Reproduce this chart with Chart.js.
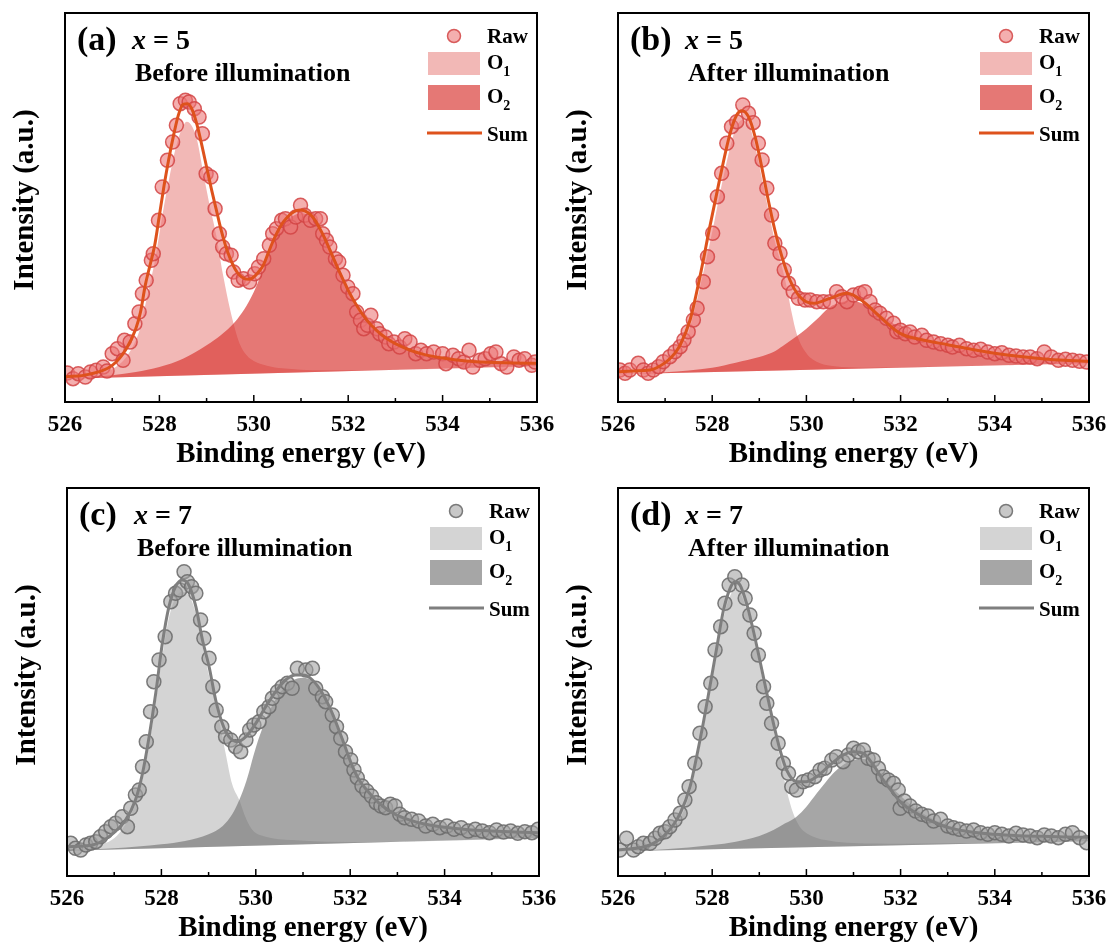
<!DOCTYPE html>
<html>
<head>
<meta charset="utf-8">
<script src="https://cdn.jsdelivr.net/npm/chart.js@4.4.1/dist/chart.umd.min.js"></script>
<style>
  body { margin: 0; background: #fff; width: 1109px; height: 945px; position: relative; overflow: hidden; }
  canvas { position: absolute; }
</style>
</head>
<body>
<canvas id="pa"></canvas>
<canvas id="pc"></canvas>
<canvas id="pb"></canvas>
<canvas id="pd"></canvas>
<script>
const SERIF = '"Liberation Serif", "Times New Roman", serif';
const majorTicks = [526, 528, 530, 532, 534, 536];
const legendNames = ['Raw', 'O', 'O', 'Sum'];

// ---- (a) x = 5, before illumination ----
const rawA = [[526.05,8.7],[526.17,7.0],[526.28,8.5],[526.43,7.5],[526.54,9.0],[526.66,9.5],[526.81,10.5],[526.89,9.3],[527.0,14.5],[527.11,16.0],[527.23,12.5],[527.26,18.5],[527.38,18.0],[527.48,23.5],[527.57,27.0],[527.64,32.5],[527.72,36.5],[527.83,42.5],[527.87,44.5],[527.98,54.5],[528.06,64.5],[528.17,72.5],[528.28,78.0],[528.36,83.0],[528.44,89.5],[528.55,90.5],[528.63,90.0],[528.74,88.0],[528.84,85.5],[528.91,80.5],[528.99,68.5],[529.09,67.5],[529.18,58.0],[529.27,50.5],[529.34,46.5],[529.42,44.5],[529.52,44.0],[529.57,39.0],[529.67,36.5],[529.78,37.0],[529.91,36.0],[530.02,38.5],[530.1,40.5],[530.21,43.0],[530.33,47.0],[530.4,50.5],[530.48,52.0],[530.59,54.5],[530.67,55.0],[530.78,52.5],[530.89,55.5],[530.99,59.0],[531.08,56.0],[531.2,54.5],[531.31,55.0],[531.41,55.0],[531.46,50.5],[531.54,48.5],[531.61,46.5],[531.73,43.0],[531.8,42.0],[531.89,38.0],[531.99,34.5],[532.1,32.5],[532.18,27.0],[532.26,24.5],[532.33,22.0],[532.41,23.0],[532.48,26.0],[532.6,22.0],[532.67,20.5],[532.79,19.5],[532.86,17.5],[532.97,18.0],[533.09,16.5],[533.2,19.0],[533.31,18.0],[533.43,14.5],[533.54,15.5],[533.66,14.5],[533.81,15.0],[534.0,14.5],[534.07,11.5],[534.22,14.0],[534.34,13.0],[534.45,12.0],[534.56,15.5],[534.64,10.5],[534.79,12.5],[534.9,13.0],[535.02,14.5],[535.13,15.0],[535.24,11.5],[535.36,10.5],[535.51,13.5],[535.62,12.5],[535.74,13.0],[535.89,11.0],[535.96,12.0]];
const sumA = [[526,7.5],[526.5,8.3],[527,11],[527.3,16],[527.5,22],[527.6,27],[527.7,35],[527.8,41],[527.9,47],[528,56],[528.1,65],[528.2,73],[528.3,80],[528.4,86],[528.5,89.3],[528.6,89.5],[528.7,87.5],[528.8,83],[528.9,77],[529,70.5],[529.1,64],[529.2,58],[529.3,52],[529.4,47],[529.5,43],[529.6,40],[529.7,38],[529.8,37],[529.9,36.8],[530,37.5],[530.1,39],[530.2,41],[530.3,44.5],[530.4,48],[530.5,51],[530.6,53.5],[530.7,55.3],[530.8,56.6],[530.9,57.4],[531,57.6],[531.1,57.2],[531.2,56.2],[531.3,54.5],[531.4,52],[531.5,49.2],[531.6,46],[531.7,42.7],[531.8,39.5],[531.9,36.5],[532,33.5],[532.2,28.5],[532.4,24.5],[532.6,21.5],[532.8,19.2],[533,17.5],[533.3,15.6],[533.6,14.3],[534,13.2],[534.5,12.3],[535,11.9],[535.5,11.7],[536,11.6]];
const o1A = [[526,7.0],[526.5,7.6],[527,9.8],[527.3,13.5],[527.5,18.5],[527.6,22.5],[527.7,29],[527.8,35.5],[527.9,42],[528,50.5],[528.1,59],[528.2,66.5],[528.3,73.5],[528.4,79],[528.5,82.8],[528.58,84.1],[528.7,82.5],[528.8,78.5],[528.93,68.6],[529.05,60],[529.21,49.6],[529.35,38],[529.5,27.6],[529.6,22],[529.7,17.5],[529.85,14],[530,12.3],[530.3,10.8],[530.6,10.1],[531,9.7],[531.5,9.5],[532.5,9.55],[536,10.8]];
const o2A = [[526,7.0],[527,8],[527.5,9],[528,10.5],[528.5,13],[529,17],[529.3,20],[529.6,24],[529.8,27.8],[530,33],[530.2,40],[530.4,47.5],[530.6,52.5],[530.8,55.5],[531,56.6],[531.2,55.8],[531.4,52.5],[531.6,47],[531.8,40.5],[532,34],[532.2,28.5],[532.4,24.5],[532.6,21.5],[532.8,19.2],[533,17.5],[533.3,15.6],[533.6,14.3],[534,13.2],[534.5,12.3],[535,11.9],[535.5,11.7],[536,11.6]];
const bgA = [[526,7.0],[536,10.8]];

// ---- (b) x = 5, after illumination ----
const rawB = [[526.04,9.6],[526.15,8.6],[526.25,9.6],[526.43,11.6],[526.54,9.6],[526.64,8.6],[526.75,9.6],[526.86,10.6],[526.96,12.1],[527.1,13.6],[527.21,15.1],[527.32,16.6],[527.4,18.6],[527.49,21.1],[527.6,24.6],[527.68,28.1],[527.81,36.1],[527.9,43.6],[528.01,50.6],[528.11,61.6],[528.2,68.6],[528.31,77.6],[528.41,82.6],[528.52,84.1],[528.65,89.1],[528.77,86.6],[528.87,83.8],[528.98,77.6],[529.06,72.6],[529.16,64.1],[529.26,56.1],[529.33,47.6],[529.44,44.6],[529.53,39.6],[529.62,35.6],[529.72,33.1],[529.83,31.1],[529.97,30.6],[530.08,30.6],[530.22,30.1],[530.36,30.1],[530.5,30.1],[530.64,33.1],[530.75,31.6],[530.86,30.1],[531.0,32.1],[531.14,32.6],[531.24,33.1],[531.35,30.1],[531.46,27.6],[531.56,26.6],[531.7,25.1],[531.85,23.6],[531.92,21.1],[532.0,21.5],[532.1,20.5],[532.2,21],[532.3,19.5],[532.45,20],[532.55,18.5],[532.7,18],[532.85,17.5],[533.0,17],[533.1,16.5],[533.25,17],[533.4,16],[533.55,15.5],[533.7,15.8],[533.85,15],[534.0,14.5],[534.15,14.8],[534.3,14],[534.45,13.8],[534.6,13.5],[534.75,13.5],[534.9,13],[535.05,15],[535.2,13.5],[535.35,12.5],[535.5,12.8],[535.65,12.5],[535.8,12.2],[535.95,12]];
const sumB = [[526,9.1],[526.3,9.3],[526.68,9.6],[527.03,12.1],[527.2,14.5],[527.32,17.1],[527.53,24.6],[527.74,37.6],[527.95,52.6],[528.17,67.6],[528.38,80.6],[528.52,86.1],[528.63,87.4],[528.77,85.6],[528.91,79.6],[529.05,70.6],[529.19,60.6],[529.33,51.6],[529.48,43.6],[529.65,36.6],[529.86,31.6],[530.15,29.6],[530.5,31.1],[530.86,32.6],[531.21,30.1],[531.56,25.6],[531.99,20.6],[532.5,18.5],[533,17.2],[533.5,15.8],[534,14.6],[534.5,13.7],[535,13.0],[535.5,12.5],[536,12.2]];
const o1B = [[526,8.3],[526.7,9.2],[527,11],[527.3,15],[527.5,21],[527.75,35],[528,51],[528.2,65],[528.4,77.5],[528.5,82],[528.63,84.6],[528.8,82.5],[528.9,77.5],[529.05,67.5],[529.2,57],[529.35,47],[529.48,40.6],[529.58,34.6],[529.69,26.6],[529.79,20.6],[530,14.6],[530.29,11.6],[530.6,10.7],[531.2,10.3],[532,10.4],[536,11.6]];
const o2B = [[526,8.3],[527,8.9],[528,10.3],[528.5,11.8],[529,13.5],[529.3,15],[529.5,16.8],[529.8,19.8],[530,22],[530.2,24.5],[530.5,28.5],[530.7,29.8],[530.9,30.3],[531.1,30],[531.3,28.8],[531.55,26.5],[531.8,24],[532,22],[532.5,18.8],[533,16.8],[533.5,15.3],[534,14.2],[534.5,13.4],[535,12.8],[535.5,12.4],[536,12.1]];
const bgB = [[526,8.3],[536,11.6]];

// ---- (c) x = 7, before illumination ----
const rawC = [[526.08,9.8],[526.18,8.3],[526.29,7.8],[526.4,9.3],[526.5,9.8],[526.61,10.3],[526.71,11.8],[526.82,13.3],[526.93,14.8],[527.03,15.8],[527.17,17.8],[527.28,14.8],[527.35,20.3],[527.45,24.3],[527.53,25.8],[527.6,32.8],[527.68,40.3],[527.77,49.3],[527.84,58.3],[527.95,64.8],[528.08,71.8],[528.2,82.3],[528.3,84.8],[528.39,85.8],[528.48,91.3],[528.55,88.3],[528.64,86.8],[528.73,84.8],[528.83,76.8],[528.9,71.3],[529.01,65.3],[529.09,56.8],[529.16,49.8],[529.28,44.8],[529.36,41.8],[529.47,40.8],[529.57,38.8],[529.68,37.3],[529.79,40.8],[529.87,43.8],[529.96,45.3],[530.07,46.3],[530.17,49.3],[530.28,50.8],[530.35,53.3],[530.46,55.3],[530.56,56.8],[530.67,57.8],[530.77,56.3],[530.88,62.3],[531.06,61.8],[531.2,62.3],[531.27,56.3],[531.41,53.8],[531.48,52.3],[531.62,48.3],[531.71,44.8],[531.8,41.3],[531.9,37.3],[532.01,34.8],[532.08,31.8],[532.15,29.5],[532.25,27],[532.35,25.5],[532.45,24],[532.55,22],[532.65,21],[532.75,20.5],[532.85,21.5],[532.95,21],[533.05,18.5],[533.15,17.5],[533.3,17],[533.45,16.5],[533.6,15],[533.75,15.5],[533.9,14.5],[534.05,15],[534.2,14],[534.35,14.5],[534.5,13.5],[534.65,14],[534.8,13.5],[534.95,13],[535.1,13.8],[535.25,13.2],[535.4,13.5],[535.55,12.8],[535.7,13.3],[535.85,13],[535.98,14]];
const sumC = [[526,8.8],[526.54,9.3],[526.89,11.8],[527.24,16.8],[527.45,22.8],[527.6,30.8],[527.74,41.8],[527.88,54.8],[528.02,69.8],[528.16,80.8],[528.3,86.8],[528.44,88.8],[528.58,87.3],[528.73,80.8],[528.87,70.8],[529.01,62.8],[529.15,52.8],[529.29,45.8],[529.43,41.8],[529.61,40.3],[529.79,41.8],[530,45.8],[530.21,50.8],[530.42,55.3],[530.63,58.8],[530.85,60.3],[531,60.3],[531.2,58.8],[531.41,54.8],[531.62,48.8],[531.84,40.8],[532.05,32.8],[532.19,28.8],[532.4,25],[532.6,22],[532.8,19.8],[533,18.2],[533.3,16.6],[533.6,15.5],[534,14.6],[534.5,13.9],[535,13.5],[535.5,13.2],[536,13.0]];
const o1C = [[526,7.6],[526.5,8.8],[527,11.3],[527.24,15.5],[527.45,21.5],[527.6,29],[527.74,39.5],[527.88,52],[528.02,66],[528.16,77.5],[528.3,83.5],[528.44,85.3],[528.58,84.3],[528.73,78.8],[528.87,69],[529.01,60],[529.15,51.8],[529.36,36.8],[529.5,27.5],[529.65,22.8],[529.8,17],[529.93,13.8],[530.21,11.8],[530.77,10.8],[531.5,10.3],[532.5,10.2],[536,11.4]];
const o2C = [[526,7.6],[527,8.3],[528,9.5],[528.5,10.5],[529,12.5],[529.3,15],[529.5,18.5],[529.65,22.8],[529.8,28.5],[530,38.5],[530.2,46.5],[530.4,52.5],[530.6,56.5],[530.8,58.8],[531,59.5],[531.2,58.5],[531.4,54.5],[531.6,48.5],[531.8,41.5],[532,34.5],[532.2,28.6],[532.4,24.8],[532.6,21.8],[532.8,19.6],[533,18],[533.3,16.4],[533.6,15.3],[534,14.4],[534.5,13.7],[535,13.3],[535.5,13.0],[536,12.8]];
const bgC = [[526,7.6],[536,11.4]];

// ---- (d) x = 7, after illumination ----
const rawD = [[526.04,7.8],[526.18,11.3],[526.33,7.8],[526.43,8.8],[526.54,9.8],[526.68,9.8],[526.79,11.3],[526.89,12.8],[527.0,13.3],[527.1,14.8],[527.21,16.8],[527.32,18.8],[527.42,22.8],[527.51,26.8],[527.63,33.8],[527.74,42.8],[527.85,50.8],[527.97,57.8],[528.06,67.8],[528.18,74.8],[528.27,81.8],[528.36,87.3],[528.48,89.8],[528.63,87.3],[528.7,83.3],[528.8,78.3],[528.89,72.8],[528.98,66.3],[529.09,56.8],[529.16,51.8],[529.26,45.8],[529.4,39.8],[529.51,33.8],[529.62,30.8],[529.69,26.8],[529.79,25.8],[529.93,28.3],[530.04,28.8],[530.18,29.8],[530.29,31.8],[530.39,32.3],[530.54,34.8],[530.64,35.8],[530.78,34.3],[530.89,36.3],[531.0,38.3],[531.1,37.3],[531.21,37.8],[531.31,35.3],[531.42,34.8],[531.53,32.3],[531.63,29.8],[531.74,28.8],[531.85,27.8],[531.95,25.8],[531.99,20.3],[532.08,22.5],[532.2,21],[532.32,19.5],[532.45,18.5],[532.58,18],[532.7,16.5],[532.85,17],[533.0,15],[533.12,14.5],[533.25,14],[533.4,13.5],[533.55,13.8],[533.7,13],[533.85,12.5],[534.0,13],[534.15,12.5],[534.3,12],[534.45,12.8],[534.6,12.3],[534.75,12],[534.9,11.5],[535.05,12.3],[535.2,12],[535.35,11.5],[535.5,12.5],[535.65,13],[535.8,11.5],[535.95,10]];
const sumD = [[526,7.8],[526.68,9.3],[527.03,12.8],[527.32,18.8],[527.53,26.8],[527.67,35.8],[527.81,45.8],[527.95,56.8],[528.1,68.8],[528.24,79.8],[528.38,86.3],[528.48,88.3],[528.59,87.3],[528.73,81.8],[528.87,73.8],[529.01,64.8],[529.16,54.8],[529.3,45.8],[529.44,37.8],[529.58,31.8],[529.79,28.3],[530,28.3],[530.22,29.8],[530.5,33.3],[530.78,36.3],[531,37.3],[531.21,36.8],[531.42,33.3],[531.63,28.8],[531.85,24.8],[531.99,22.3],[532.2,20],[532.5,17.5],[532.8,15.6],[533,14.6],[533.5,13.2],[534,12.5],[534.5,12.1],[535,11.9],[535.5,11.7],[536,11.6]];
const o1D = [[526,7.4],[526.5,8.6],[527,11.8],[527.32,17.3],[527.53,25],[527.67,34],[527.81,44],[527.95,55],[528.1,67],[528.24,77.5],[528.38,84],[528.48,85.8],[528.59,85],[528.73,80],[528.87,72],[529.01,63],[529.16,53],[529.3,44],[529.44,35.5],[529.58,25.8],[529.72,18.8],[529.86,14.8],[530.15,11.8],[530.5,10.6],[531,9.9],[532,9.7],[536,10.4]];
const o2D = [[526,7.4],[527,8],[528,9.3],[528.5,10.3],[529,12],[529.3,13.8],[529.55,15.8],[529.79,17.8],[530,20.8],[530.22,24.8],[530.4,28],[530.57,30.8],[530.8,33.5],[531,34.8],[531.15,35.2],[531.28,34.8],[531.45,32.5],[531.63,29.8],[531.8,26.8],[531.99,24.2],[532.2,21.5],[532.5,18.5],[533,15.2],[533.5,13.4],[534,12.4],[534.5,11.8],[535,11.4],[535.5,11.2],[536,11.0]];
const bgD = [[526,7.4],[536,10.4]];

const red = { raw: 'rgba(236,118,118,0.58)', rawEdge: 'rgba(210,68,68,0.85)', o1: '#f2b8b6', o2: 'rgba(215,50,46,0.66)', sum: '#de521c' };
const gray = { raw: 'rgba(160,160,160,0.58)', rawEdge: 'rgba(110,110,110,0.9)', o1: '#d4d4d4', o2: 'rgba(114,114,114,0.63)', sum: '#7f7f7f' };

// left canvases are a little wider than their quadrant so the "536" label is not cut
const panels = [
  { id: 'pa', left: 0,   top: 0,   w: 566, h: 472, area: { l: 65, r: 537, t: 13, b: 402 }, yMax: 116.7, tag: '(a)', n: '5', state: 'Before illumination', theme: red,  raw: rawA, sum: sumA, o1: o1A, o2: o2A, bg: bgA },
  { id: 'pb', left: 554, top: 0,   w: 555, h: 472, area: { l: 64, r: 535, t: 13, b: 402 }, yMax: 116.7, tag: '(b)', n: '5', state: 'After illumination',  theme: red,  raw: rawB, sum: sumB, o1: o1B, o2: o2B, bg: bgB },
  { id: 'pc', left: 0,   top: 472, w: 566, h: 473, area: { l: 67, r: 539, t: 16, b: 404 }, yMax: 116.4, tag: '(c)', n: '7', state: 'Before illumination', theme: gray, raw: rawC, sum: sumC, o1: o1C, o2: o2C, bg: bgC },
  { id: 'pd', left: 554, top: 472, w: 555, h: 473, area: { l: 64, r: 535, t: 16, b: 404 }, yMax: 116.4, tag: '(d)', n: '7', state: 'After illumination',  theme: gray, raw: rawD, sum: sumD, o1: o1D, o2: o2D, bg: bgD }
];

const toXY = arr => arr.map(p => ({ x: p[0], y: p[1] }));

const deco = {
  id: 'deco',
  afterDraw(chart, args, o) {
    const ctx = chart.ctx;
    const ca = chart.chartArea;
    const xs = chart.scales.x;
    const t = o.theme;
    ctx.save();
    // ticks pointing into the plot
    ctx.strokeStyle = '#000';
    ctx.lineWidth = 1.5;
    xs.ticks.forEach(tk => {
      if (tk.value <= 526 || tk.value >= 536) return;
      const px = xs.getPixelForValue(tk.value);
      const len = majorTicks.includes(tk.value) ? 7 : 4;
      ctx.beginPath();
      ctx.moveTo(px, ca.bottom);
      ctx.lineTo(px, ca.bottom - len);
      ctx.stroke();
    });
    // frame
    ctx.lineWidth = 2;
    ctx.strokeRect(ca.left, ca.top, ca.right - ca.left, ca.bottom - ca.top);

    ctx.fillStyle = '#000';
    ctx.textBaseline = 'alphabetic';
    // axis titles
    ctx.font = 'bold 29px ' + SERIF;
    ctx.textAlign = 'center';
    ctx.fillText('Binding energy (eV)', (ca.left + ca.right) / 2, ca.bottom + 60);
    ctx.save();
    ctx.translate(ca.left - 39, ca.top + 187);
    ctx.rotate(-Math.PI / 2);
    ctx.textBaseline = 'middle';
    ctx.fillText('Intensity (a.u.)', 0, 0);
    ctx.restore();

    // panel tag and sample
    ctx.textAlign = 'left';
    ctx.font = 'bold 34px ' + SERIF;
    ctx.fillText(o.tag, ca.left + 12, ca.top + 37);
    let x0 = ca.left + 67;
    ctx.font = 'italic bold 28px ' + SERIF;
    ctx.fillText('x', x0, ca.top + 36);
    x0 += ctx.measureText('x').width;
    ctx.font = 'bold 28px ' + SERIF;
    ctx.fillText(' = ' + o.n, x0, ca.top + 36);
    ctx.font = 'bold 26px ' + SERIF;
    ctx.fillText(o.state, ca.left + 70, ca.top + 68);

    // legend
    const lx = ca.right - 109, tx = ca.right - 50;
    ctx.beginPath();
    ctx.arc(ca.right - 83, ca.top + 23, 6.5, 0, Math.PI * 2);
    ctx.fillStyle = t.raw;
    ctx.fill();
    ctx.lineWidth = 1.5;
    ctx.strokeStyle = t.rawEdge;
    ctx.stroke();
    ctx.fillStyle = t.o1;
    ctx.fillRect(lx, ca.top + 39, 52, 23);
    ctx.fillStyle = t.o2;
    ctx.fillRect(lx, ca.top + 72, 52, 25);
    ctx.strokeStyle = t.sum;
    ctx.lineWidth = 3;
    ctx.beginPath();
    ctx.moveTo(lx - 1, ca.top + 120);
    ctx.lineTo(lx + 54, ca.top + 120);
    ctx.stroke();

    ctx.fillStyle = '#000';
    ctx.font = 'bold 21px ' + SERIF;
    ctx.fillText(legendNames[0], tx, ca.top + 30);
    ctx.fillText(legendNames[1], tx, ca.top + 56);
    ctx.fillText(legendNames[2], tx, ca.top + 90);
    ctx.fillText(legendNames[3], tx, ca.top + 128);
    const ow = ctx.measureText('O').width;
    ctx.font = 'bold 14px ' + SERIF;
    ctx.fillText('1', tx + ow, ca.top + 63);
    ctx.fillText('2', tx + ow, ca.top + 97);
    ctx.restore();
  }
};

panels.forEach(p => {
  const cv = document.getElementById(p.id);
  cv.width = p.w;
  cv.height = p.h;
  cv.style.left = p.left + 'px';
  cv.style.top = p.top + 'px';
  const th = p.theme;
  new Chart(cv, {
    type: 'scatter',
    data: {
      datasets: [
        { label: 'Sum', data: toXY(p.sum), showLine: true, borderColor: th.sum, borderWidth: 3, pointRadius: 0, cubicInterpolationMode: 'monotone', fill: false, clip: 0 },
        { label: 'Raw', data: toXY(p.raw), showLine: false, pointRadius: 7, pointBackgroundColor: th.raw, pointBorderColor: th.rawEdge, pointBorderWidth: 1.5, clip: 0 },
        { label: 'O2', data: toXY(p.o2), showLine: true, borderColor: 'transparent', borderWidth: 0, pointRadius: 0, cubicInterpolationMode: 'monotone', backgroundColor: th.o2, fill: { target: 4 }, clip: 0 },
        { label: 'O1', data: toXY(p.o1), showLine: true, borderColor: 'transparent', borderWidth: 0, pointRadius: 0, cubicInterpolationMode: 'monotone', backgroundColor: th.o1, fill: { target: 4 }, clip: 0 },
        { label: 'bg', data: toXY(p.bg), showLine: true, borderColor: 'transparent', borderWidth: 0, pointRadius: 0, fill: false, clip: 0 }
      ]
    },
    options: {
      responsive: false,
      animation: false,
      events: [],
      layout: { padding: { top: p.area.t, right: p.w - p.area.r, left: 0, bottom: 0 } },
      scales: {
        x: {
          type: 'linear', min: 526, max: 536,
          grid: { display: false }, border: { display: false },
          ticks: {
            stepSize: 1, autoSkip: false, maxRotation: 0, color: '#000', padding: 1,
            font: { family: SERIF, size: 23, weight: 'bold' },
            callback: v => majorTicks.includes(v) ? String(v) : ''
          },
          afterFit: s => { s.height = p.h - p.area.b; s.paddingLeft = 0; s.paddingRight = 0; }
        },
        y: {
          min: 0, max: p.yMax, display: true,
          grid: { display: false }, border: { display: false },
          ticks: { display: false },
          afterFit: s => { s.width = p.area.l; s.paddingTop = 0; s.paddingBottom = 0; }
        }
      },
      plugins: {
        legend: { display: false },
        tooltip: { enabled: false },
        deco: { tag: p.tag, n: p.n, state: p.state, theme: th }
      }
    },
    plugins: [deco]
  });
});
</script>
</body>
</html>
